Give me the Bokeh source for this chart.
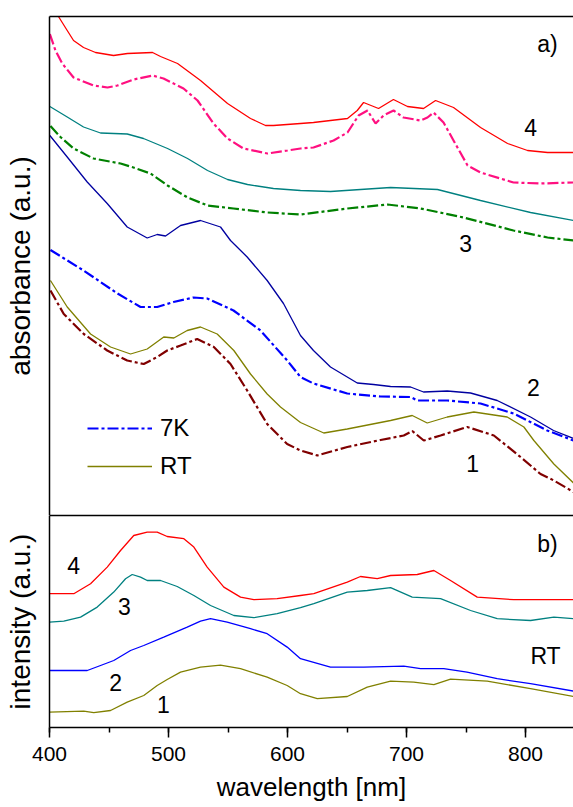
from bokeh.plotting import figure
from bokeh.models import (Range1d, LinearAxis, FixedTicker, SingleIntervalTicker,
                          Label, Legend, LegendItem)
from bokeh.layouts import column
from bokeh.embed import file_html
from bokeh.resources import INLINE

FONT = "Liberation Sans"

# ---------------- data: panel a) absorbance (a.u.) ----------------
abs4_rt_x = [400, 407.8, 414.9, 420.2, 428.6, 438.7, 453.8, 465.5, 486.6, 493.3, 507.6, 526.9, 549.6, 568.9,
             581.5, 588.2, 610.9, 621.8, 650.4, 658.6, 663.9, 676.5, 689.0, 700.8, 714.3, 724.4, 739.5, 762.2,
             784.9, 801.7, 818.5, 840.3]
abs4_rt_y = [103, 99.7, 97.0, 95.0, 93.6, 92.6, 92.0, 92.4, 92.6, 91.8, 90.4, 87.0, 82.4, 79.4,
             78.0, 78.0, 78.4, 78.6, 79.4, 81.0, 82.6, 81.4, 83.2, 81.8, 81.4, 83.0, 81.6, 77.6,
             74.4, 73.0, 72.6, 72.6]

abs4_7k_x = [400.3, 405, 410.7, 420.2, 437, 448.7, 457.1, 470.6, 486.6, 495.8, 512.6, 524.4, 537.8, 549.6,
             563, 583.2, 600, 610.9, 621.8, 638.7, 650.4, 659.7, 667.2, 674, 680.7, 689.1, 697.5, 711.8,
             717.6, 722.7, 731.1, 739.5, 751.3, 762.2, 789.9, 812.6, 840.3]
abs4_7k_y = [96.3, 93, 90.4, 87.6, 86, 85.6, 86, 87.2, 88, 87.4, 85.4, 83, 78.4, 75.4,
             73.4, 72.4, 73, 73.4, 73.6, 75, 76.6, 80, 81, 78.4, 80, 81, 79.6, 79,
             79.6, 80.6, 78.6, 75, 70, 68.6, 66.6, 66.4, 66.6]

abs3_rt_x = [400.3, 414.9, 428.6, 442.9, 465.3, 479, 499.2, 516, 532.8, 549.6, 566.4, 588.2, 610.9, 636.1,
             686.6, 726, 762.2, 804.2, 840.3]
abs3_rt_y = [81.8, 79.7, 77.7, 76.5, 76.3, 75.4, 73.4, 71.4, 69, 67.2, 66.2, 65.4, 65, 64.8,
             65.6, 65.2, 63, 60.6, 59]

abs3_7k_x = [400.8, 409.2, 420.2, 437, 459.7, 470.6, 484.9, 499.2, 516, 532.8, 554.6, 583.2, 610.9, 650.4,
             684, 711.8, 747.9, 789.9, 818.5, 840.3]
abs3_7k_y = [77.9, 75.7, 73.4, 71.4, 70.4, 69.6, 68.4, 66, 63.6, 62, 61.4, 60.6, 60.2, 61.4,
             62.2, 61.4, 59.6, 57, 55.6, 55]

abs2_rt_x = [400.3, 414.9, 431.7, 448.5, 465.3, 482.1, 490.5, 497.5, 510.1, 526.9, 543.7, 552.1, 566.1, 582.9,
             596.6, 610.9, 621.8, 636.1, 658.6, 672.3, 686.6, 703.4, 714.3, 734.2, 753.8, 776.2, 804.2, 823.5,
             840.3]
abs2_rt_y = [76, 71.7, 66.7, 62.4, 57.7, 55.5, 56.2, 55.9, 58, 59, 57.7, 55, 51.7, 47,
             42.4, 36, 33, 29.7, 26.5, 26.2, 25.8, 25.7, 24.7, 24.9, 24.5, 23, 19.7, 17,
             15.4]

abs2_7k_x = [400.8, 428.6, 457.1, 476.5, 490.5, 504.2, 521, 532.5, 554.6, 577.3, 599.7, 610.9, 621.8, 650.2,
             678.2, 703.4, 709, 734.2, 762.2, 789.9, 818.2, 840.3]
abs2_7k_y = [53.1, 49, 44.4, 41.7, 41.7, 42.7, 43.6, 43.4, 41, 37, 31, 27.7, 26.4, 24.4,
             23.8, 23.7, 23, 23, 22.4, 20.4, 17, 15]

abs1_rt_x = [400.8, 414.9, 434.5, 451.3, 468.1, 482.1, 496, 504.5, 515.7, 526.9, 540.9, 554.9, 568.9, 582.9,
             594.1, 610.9, 630.5, 650.2, 686.6, 704.8, 717.4, 734.2, 756.6, 784.6, 798.6, 807, 823.8, 840.3]
abs1_rt_y = [47, 41.7, 36.3, 33.7, 32.3, 33.3, 35.7, 35.5, 37, 37.7, 36.3, 33, 28.3, 24.3,
             21.7, 18.6, 16.5, 17.3, 19, 20, 18.5, 19.7, 20.7, 19.7, 17.7, 15, 10.3, 6.5]

abs1_7k_x = [400.8, 412, 428.8, 448.5, 465.3, 479.2, 490.5, 498.9, 510.1, 524.1, 538.1, 552.1, 566.1, 582.9,
             599.7, 610.9, 625, 650.2, 678.2, 697.7, 704.8, 714.5, 728.6, 751, 773.4, 795.8, 812.6, 823.8,
             840.3]
abs1_7k_y = [45, 40.3, 36.3, 33, 31, 30.3, 31.7, 33, 34, 35.3, 33.7, 30.3, 25, 18.3,
             14.3, 13, 12, 13.7, 15.1, 16, 16.9, 15, 16, 17.7, 16, 11.7, 8.3, 7,
             4.7]

# ---------------- data: panel b) intensity (a.u.) ----------------
pl4_x = [400, 420.4, 434.5, 448.5, 459.7, 470.8, 482.1, 490.5, 498.9, 512.9, 521.3, 532.5, 546.5, 560.5,
         571.7, 591.3, 610.9, 622.1, 650.2, 661.3, 675.4, 686.6, 709, 723, 737, 759.4, 790.2, 840.3]
pl4_y = [66.9, 66.9, 71.9, 80.2, 88.5, 96, 97.7, 97.7, 95.5, 94.4, 90.2, 80.2, 70.2, 65.2,
         63.9, 64.4, 66, 66.9, 72.7, 75.5, 74.4, 76, 76.5, 78.5, 73.5, 65.2, 63.9, 63.9]

pl3_x = [400, 412, 426.1, 440.1, 454, 463.9, 469.5, 476.5, 482.1, 493.3, 507.3, 521.3, 535.3, 554.9,
         571.7, 591.3, 610.9, 622.1, 650.2, 667, 686.6, 704.8, 728.6, 753.8, 776.2, 804.2, 823.8, 840.3]
pl3_y = [52.7, 53.2, 55.2, 60.2, 67.7, 74.4, 76.5, 75.2, 73.5, 73.5, 70.5, 66, 61, 56,
         54.9, 56.9, 59.9, 61.9, 67.7, 68.5, 69.9, 65.2, 64.4, 58.5, 54.4, 53.5, 55.2, 54.4]

pl2_x = [400, 431.7, 442.9, 454, 468.1, 479.2, 496, 515.7, 526.9, 535.3, 549.3, 568.9, 582.9, 599.7,
         610.9, 636.1, 664.1, 697.7, 711.8, 731.3, 750.8, 776.2, 804.2, 840.3]
pl2_y = [28.5, 28.5, 31, 33.5, 38.5, 41, 45.2, 50.2, 53.2, 54.4, 52.7, 49.4, 46.9, 40.2,
         34.4, 30.2, 30.2, 30.7, 29.4, 29.4, 27.7, 24.4, 21.9, 18.2]

pl1_x = [400, 428.8, 437.2, 451.3, 465.3, 479.2, 490.5, 498.9, 510.1, 526.9, 543.7, 560.5, 582.9, 599.7,
         610.9, 625, 650.2, 667, 686.6, 706.1, 723, 737, 767.8, 804.2, 840.3]
pl1_y = [7.7, 8.2, 7.4, 8.5, 12.7, 16, 21, 24, 27.7, 30.2, 31.2, 29.4, 25.2, 21,
         16.9, 14.4, 15.5, 20.2, 23.2, 22.7, 21.4, 24.2, 23.2, 19.4, 15.5]

# annotation texts and their data positions
top_texts = ["a)", "4", "3", "2", "1"]
top_text_x = [818.5, 804.2, 749.6, 806.7, 755.5]
top_text_y = [94.4, 77.6, 54.4, 25.6, 10.4]
bot_texts = ["b)", "4", "3", "2", "1", "RT"]
bot_text_x = [818.5, 420.2, 463, 455.5, 495.8, 816.8]
bot_text_y = [92, 81, 60.5, 22.5, 11.5, 36]

X_START, X_END = 400, 840.3
DASHDOT = "11 3 3 3"
TXT = "black"

xr = Range1d(X_START, X_END)


def bare_axis(**kw):
    ax = LinearAxis(ticker=FixedTicker(ticks=[]), major_tick_out=0, major_tick_in=0,
                    minor_tick_out=0, minor_tick_in=0, major_label_standoff=0,
                    axis_line_width=1.5, axis_line_color="black",
                    axis_label_text_color=TXT, **kw)
    return ax


def make_fig(frame_h, y_end, top_border, bottom_border):
    p = figure(frame_width=524, frame_height=frame_h, x_range=xr, y_range=Range1d(0, y_end),
               output_backend="svg", toolbar_location=None,
               x_axis_location=None, y_axis_location=None,
               min_border_left=49, min_border_right=0,
               min_border_top=top_border, min_border_bottom=bottom_border,
               outline_line_color=None, background_fill_color="white",
               border_fill_color="white")
    for g in p.grid:
        g.visible = False
    return p


# ---------------- panel a ----------------
p1 = make_fig(499, 99.8, 16, 0)
p1.add_layout(bare_axis(axis_label="absorbance (a.u.)", axis_label_text_font=FONT,
                        axis_label_text_font_size="28px", axis_label_text_font_style="normal",
                        axis_label_standoff=14), "left")
p1.add_layout(bare_axis(), "above")
p1.add_layout(bare_axis(), "below")

SOLID_W = 1.3
DD_W = 2.2
p1.line(abs4_rt_x, abs4_rt_y, color="#ff0000", line_width=SOLID_W)
p1.line(abs4_7k_x, abs4_7k_y, color="#ff1080", line_width=DD_W, line_dash=DASHDOT)
p1.line(abs3_rt_x, abs3_rt_y, color="#008080", line_width=SOLID_W)
p1.line(abs3_7k_x, abs3_7k_y, color="#008000", line_width=DD_W, line_dash=DASHDOT)
p1.line(abs2_rt_x, abs2_rt_y, color="#0000a0", line_width=SOLID_W)
r_7k = p1.line(abs2_7k_x, abs2_7k_y, color="#0000ff", line_width=DD_W, line_dash=DASHDOT)
r_rt = p1.line(abs1_rt_x, abs1_rt_y, color="#808000", line_width=SOLID_W)
p1.line(abs1_7k_x, abs1_7k_y, color="#800000", line_width=DD_W, line_dash=DASHDOT)

legend = Legend(items=[LegendItem(label="7K", renderers=[r_7k]),
                       LegendItem(label="RT", renderers=[r_rt])],
                location=(38, 35), orientation="vertical",
                border_line_color=None, background_fill_alpha=0,
                padding=0, margin=0, spacing=10,
                glyph_width=65, glyph_height=24, label_height=24, label_standoff=8,
                label_text_font=FONT, label_text_font_size="24px", label_text_color=TXT)
p1.add_layout(legend)

for t, x, y in zip(top_texts, top_text_x, top_text_y):
    p1.add_layout(Label(x=x, y=y, text=t, text_align="center", text_baseline="middle",
                        text_font=FONT, text_font_size="23px", text_color=TXT))

# ---------------- panel b ----------------
p2 = make_fig(212, 106, 0, 80)
p2.add_layout(bare_axis(axis_label="intensity (a.u.)", axis_label_text_font=FONT,
                        axis_label_text_font_size="28px", axis_label_text_font_style="normal",
                        axis_label_standoff=14), "left")
p2.add_layout(bare_axis(), "above")
xaxis = LinearAxis(ticker=SingleIntervalTicker(interval=100, num_minor_ticks=2),
                   major_tick_out=10, major_tick_in=0, minor_tick_out=5, minor_tick_in=0,
                   major_tick_line_width=1.5, minor_tick_line_width=1.5,
                   axis_line_width=1.5, major_label_standoff=9,
                   major_label_text_font=FONT, major_label_text_font_size="21px",
                   major_label_text_color=TXT,
                   axis_label="wavelength [nm]", axis_label_text_font=FONT,
                   axis_label_text_font_size="26px", axis_label_text_font_style="normal",
                   axis_label_text_color=TXT, axis_label_standoff=8)
p2.add_layout(xaxis, "below")

p2.line(pl4_x, pl4_y, color="#ff0000", line_width=SOLID_W)
p2.line(pl3_x, pl3_y, color="#008080", line_width=SOLID_W)
p2.line(pl2_x, pl2_y, color="#0000ff", line_width=SOLID_W)
p2.line(pl1_x, pl1_y, color="#808000", line_width=SOLID_W)

for t, x, y in zip(bot_texts, bot_text_x, bot_text_y):
    p2.add_layout(Label(x=x, y=y, text=t, text_align="center", text_baseline="middle",
                        text_font=FONT, text_font_size="23px", text_color=TXT))

layout = column(p1, p2, spacing=0)
open("out.html", "w").write(file_html(layout, INLINE))
